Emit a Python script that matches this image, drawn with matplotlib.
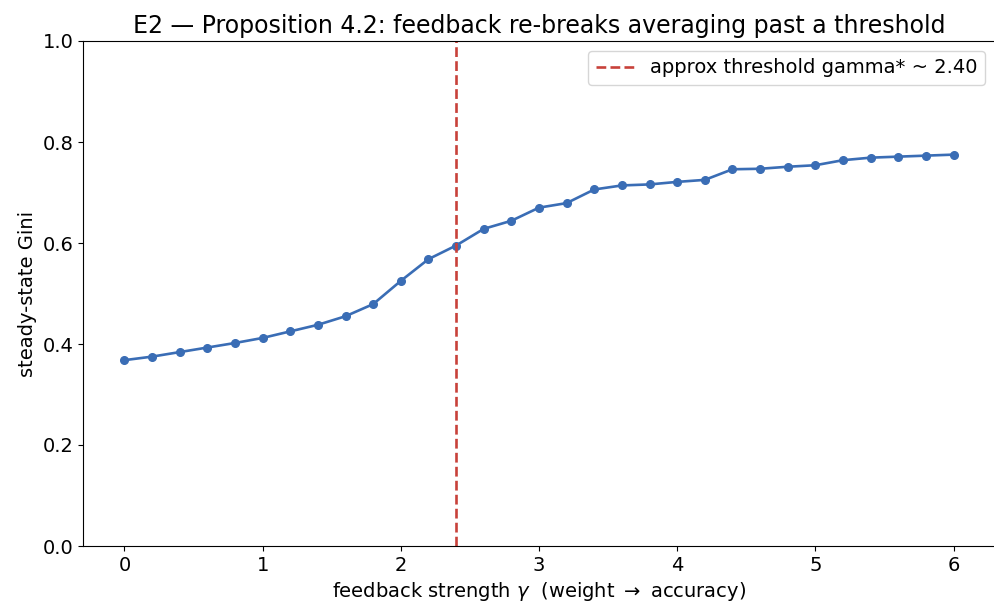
import matplotlib
matplotlib.use("Agg")
import matplotlib.pyplot as plt

gamma = [0.0, 0.2, 0.4, 0.6, 0.8, 1.0, 1.2, 1.4, 1.6, 1.8, 2.0, 2.2, 2.4, 2.6, 2.8, 3.0,
         3.2, 3.4, 3.6, 3.8, 4.0, 4.2, 4.4, 4.6, 4.8, 5.0, 5.2, 5.4, 5.6, 5.8, 6.0]
gini = [0.368, 0.375, 0.384, 0.393, 0.402, 0.412, 0.425, 0.438, 0.455, 0.479, 0.525,
        0.568, 0.595, 0.628, 0.644, 0.670, 0.679, 0.706, 0.714, 0.716, 0.721, 0.725,
        0.746, 0.747, 0.751, 0.754, 0.764, 0.769, 0.771, 0.773, 0.775]
threshold = 2.40

fig = plt.figure(figsize=(9.94, 6.07), dpi=100)
ax = fig.add_axes([83/994, 1-546/607, (995-83)/994, (546-41)/607])
ax.plot(gamma, gini, color="#3a6db5", marker="o", markersize=5.5, linewidth=1.9)
ax.axvline(threshold, color="#c8413a", linestyle="--", linewidth=1.9,
           label=f"approx threshold gamma* ~ {threshold:.2f}")
ax.set_ylim(0, 1.0)
ax.set_xlim(-0.3, 6.3)
ax.set_xticks([0, 1, 2, 3, 4, 5, 6])
ax.set_yticks([0.0, 0.2, 0.4, 0.6, 0.8, 1.0])
ax.spines["right"].set_visible(False)
ax.tick_params(labelsize=14)
ax.set_xlabel(r"feedback strength $\gamma$  (weight $\rightarrow$ accuracy)", fontsize=14)
ax.set_ylabel("steady-state Gini", fontsize=14)
ax.set_title("E2 — Proposition 4.2: feedback re-breaks averaging past a threshold", fontsize=17)
ax.legend(loc="upper right", fontsize=14)
fig.savefig("out.png", dpi=100)
